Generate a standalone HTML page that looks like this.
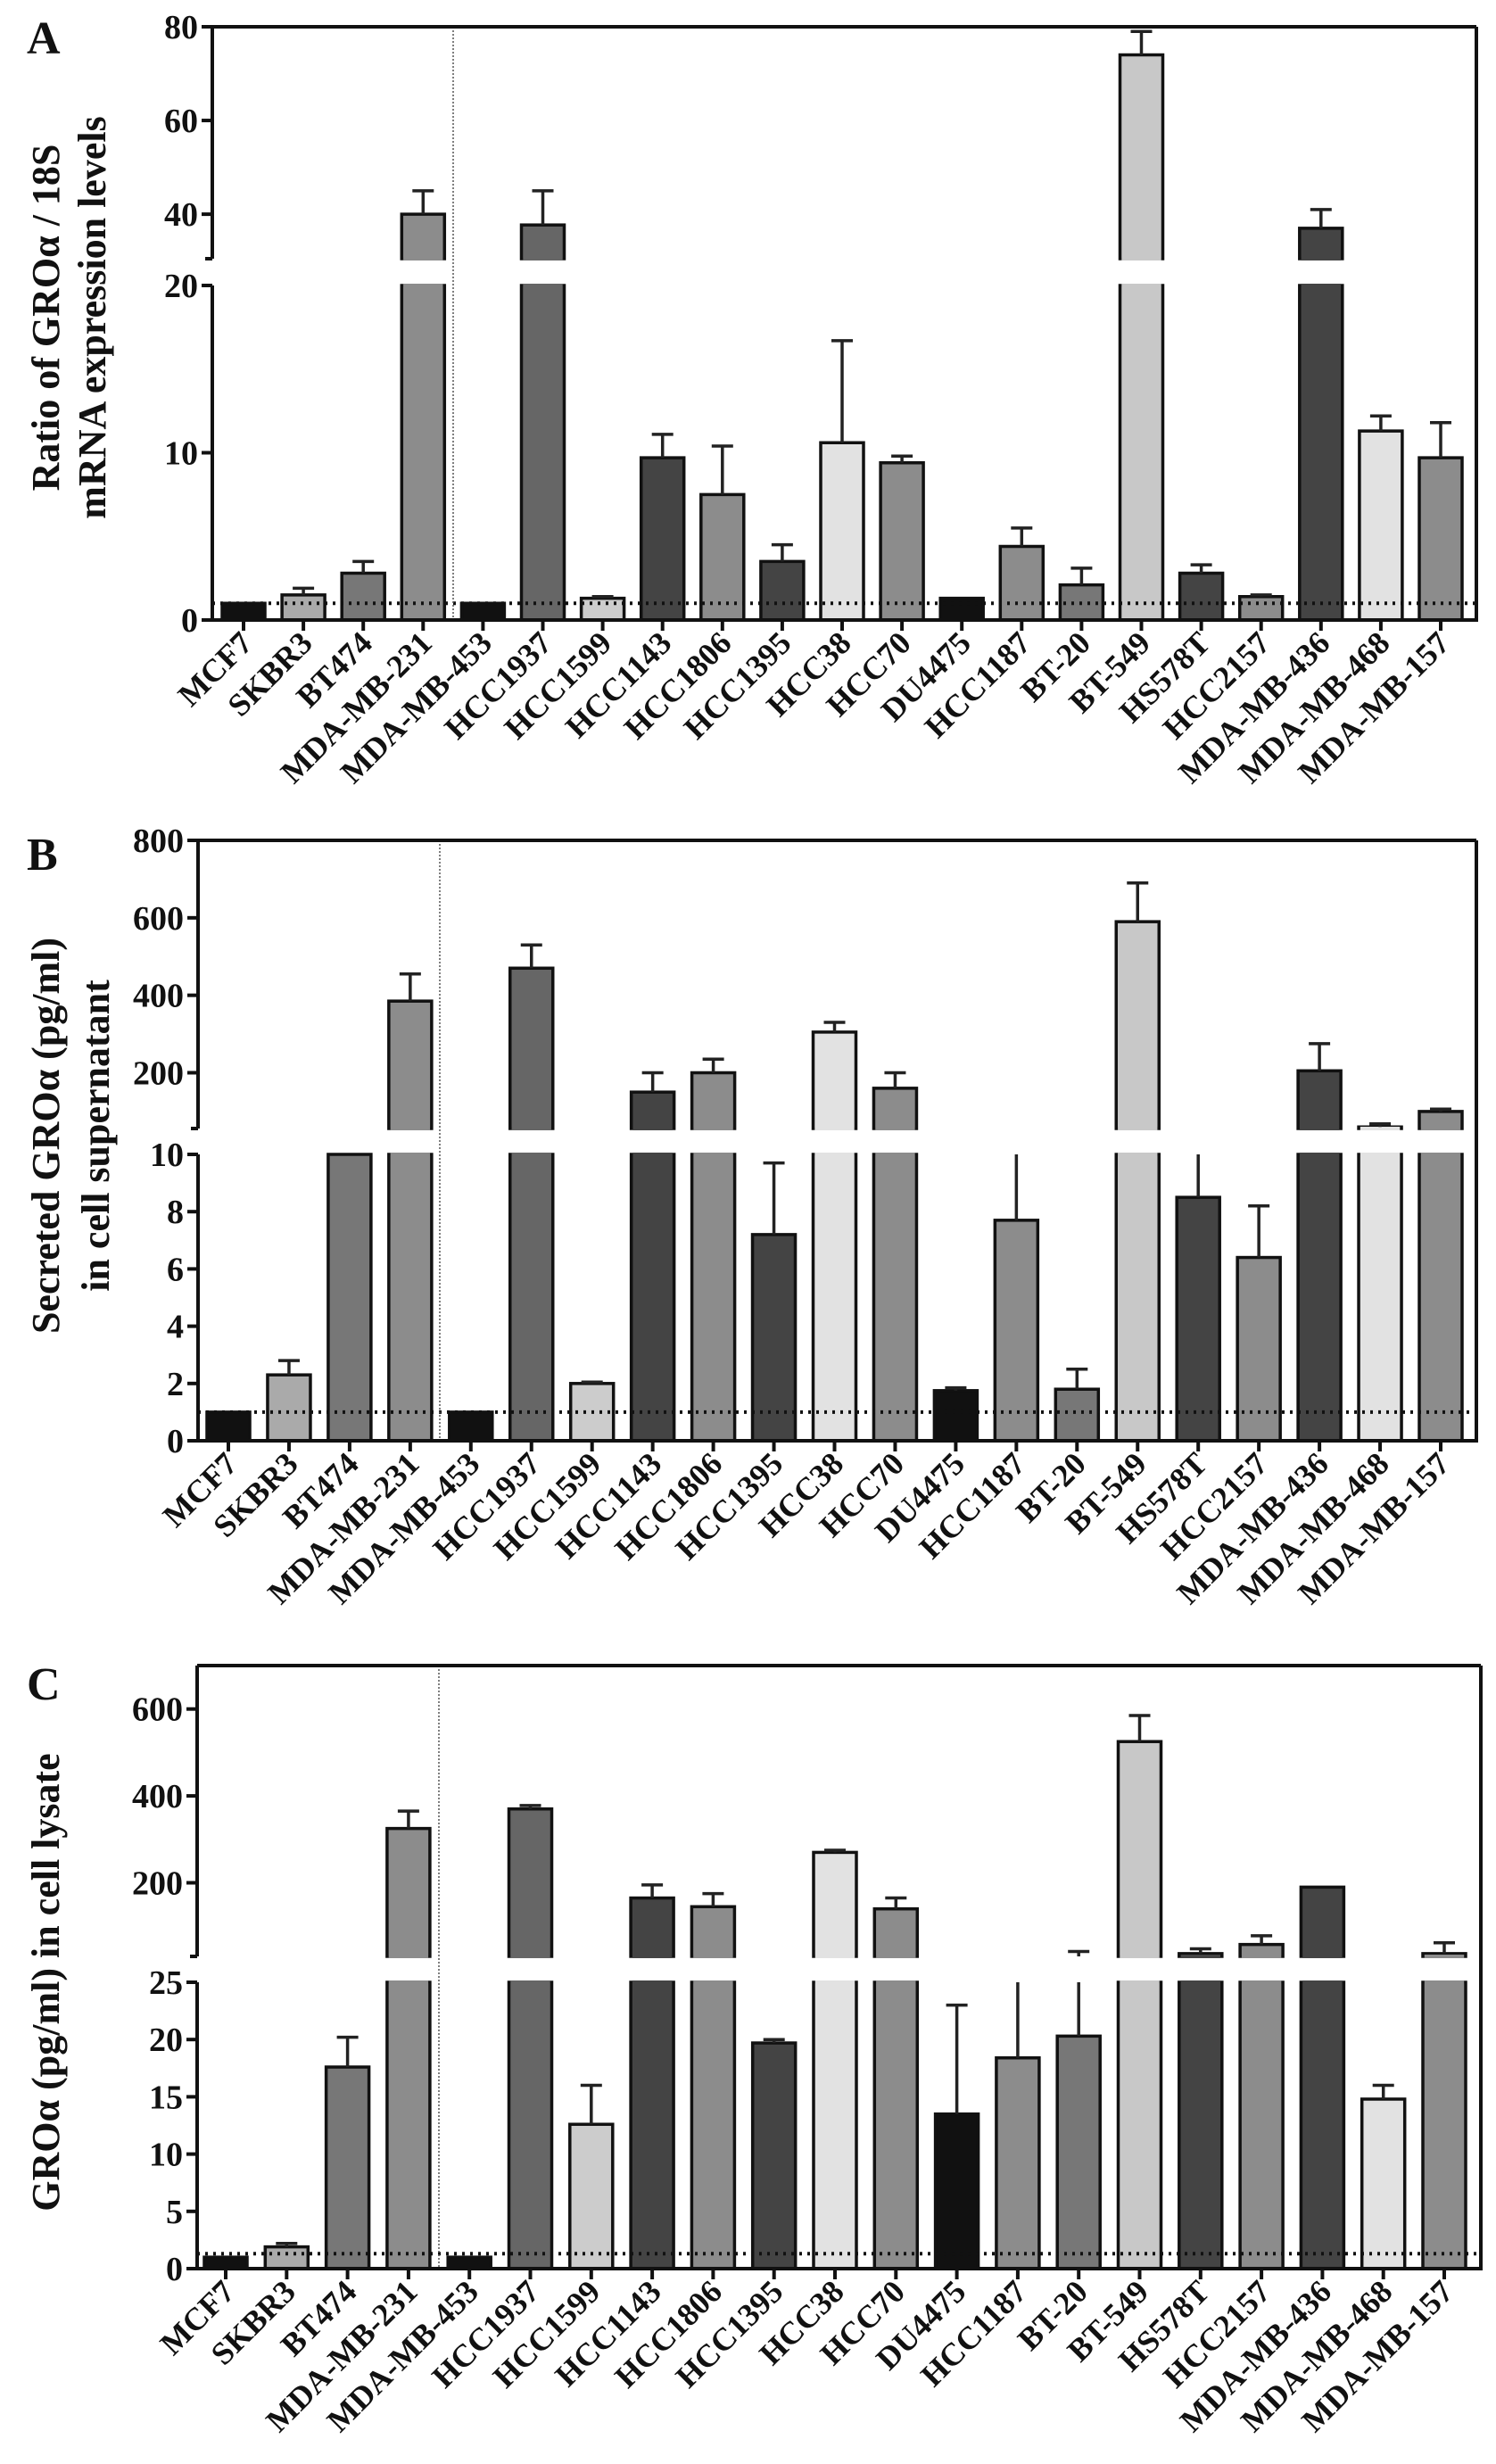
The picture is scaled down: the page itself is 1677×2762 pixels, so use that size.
<!DOCTYPE html>
<html><head><meta charset="utf-8"><style>
html,body{margin:0;padding:0;background:#fff}
svg{display:block}
text{font-family:"Liberation Serif",serif;font-weight:bold;fill:#111}
</style></head><body>
<svg id="fig" width="1677" height="2762" viewBox="0 0 1677 2762" xmlns="http://www.w3.org/2000/svg"></svg>
<script>
const categories=["MCF7","SKBR3","BT474","MDA-MB-231","MDA-MB-453","HCC1937","HCC1599","HCC1143","HCC1806","HCC1395","HCC38","HCC70","DU4475","HCC1187","BT-20","BT-549","HS578T","HCC2157","MDA-MB-436","MDA-MB-468","MDA-MB-157"];
const colorsA=["#111","#aaa","#777","#8c8c8c","#111","#666","#ccc","#444","#8c8c8c","#444","#e2e2e2","#8c8c8c","#111","#8c8c8c","#777","#c8c8c8","#444","#8c8c8c","#444","#e2e2e2","#8c8c8c"];
const meanA=[1,1.5,2.8,40,1,37.7,1.3,9.7,7.5,3.5,10.6,9.4,1.3,4.4,2.1,74,2.8,1.4,37,11.3,9.7];
const errA=[1,1.9,3.5,45,1,45,1.4,11.1,10.4,4.5,16.7,9.8,1.3,5.5,3.1,79,3.3,1.5,41,12.2,11.8];
const ticksALow=[0,10,20];
const ticksAUp=[40,60,80];
const meanB=[1,2.3,30,385,1,470,2.0,150,200,7.2,305,160,1.75,7.7,1.8,590,8.5,6.4,205,60,100];
const errB=[1,2.8,30,455,1,530,2.05,200,235,9.7,330,200,1.85,30,2.5,690,30,8.2,275,68,106];
const ticksBLow=[0,2,4,6,8,10];
const ticksBUp=[200,400,600,800];
const meanC=[1,1.9,17.6,325,1,370,12.6,165,145,19.7,270,140,13.5,18.4,20.3,525,37,58,190,14.8,37];
const errC=[1,2.2,20.2,365,1,378,16,195,175,20,275,165,23,27,42,585,48,78,190,16,62];
const ticksCLow=[0,5,10,15,20,25];
const ticksCUp=[200,400,600];

const NS="http://www.w3.org/2000/svg";
const svg=document.getElementById('fig');
function mk(tag,attrs,parent){const e=document.createElementNS(NS,tag);for(const k in attrs)e.setAttribute(k,attrs[k]);(parent||svg).appendChild(e);return e;}

function drawPanel(c,means,errs,lowTicks,upTicks){
  const g=mk('g',{});
  
  
  const yLow=v=>c.base-(v-c.lo0)/(c.lo1-c.lo0)*(c.base-c.loTop);
  const yUp=v=>c.upBot-(v-c.up0)/(c.up1-c.up0)*(c.upBot-c.top);
  const xAt=i=>c.x0+i*c.dx;
  const hw=c.bw/2;
  means.forEach((v,i)=>{
    const x=xAt(i);
    const lowV=Math.min(v,c.lo1);
    const r=mk('rect',{x:x-hw,y:yLow(lowV),width:c.bw,height:c.base-yLow(lowV),fill:colorsA[i],stroke:'#111','stroke-width':3.5},g);
    
    
    if(v>c.up0){
      const r2=mk('rect',{x:x-hw,y:yUp(v),width:c.bw,height:c.upBot-yUp(v),fill:colorsA[i],stroke:'#111','stroke-width':3.5},g);
      
      
      mk('rect',{x:x-hw+1.8,y:c.upBot-2,width:c.bw-3.6,height:4,fill:colorsA[i]},g);
      mk('rect',{x:x-hw+1.8,y:c.loTop-2,width:c.bw-3.6,height:4,fill:colorsA[i]},g);
    }
    const e=errs[i];
    if(e>v){
      const eg=mk('g',{stroke:'#222','stroke-width':3.5,fill:'none'},g);
      
      
      if(v<=c.lo1){
        if(e<=c.lo1){mk('line',{x1:x,y1:yLow(v),x2:x,y2:yLow(e)},eg);mk('line',{x1:x-12,y1:yLow(e),x2:x+12,y2:yLow(e)},eg);}
        else{mk('line',{x1:x,y1:yLow(v),x2:x,y2:c.loTop},eg);
          if(e>c.up0){mk('line',{x1:x,y1:c.upBot,x2:x,y2:yUp(e)},eg);mk('line',{x1:x-12,y1:yUp(e),x2:x+12,y2:yUp(e)},eg);}}
      } else if(v>=c.up0){
        mk('line',{x1:x,y1:yUp(v),x2:x,y2:yUp(e)},eg);mk('line',{x1:x-12,y1:yUp(e),x2:x+12,y2:yUp(e)},eg);
      }
    }
  });
  const rl=mk('line',{x1:c.left,y1:yLow(c.ref),x2:c.right,y2:yLow(c.ref),stroke:'#111','stroke-width':4,'stroke-dasharray':'3 6'},g);
  
  const vl=mk('line',{x1:c.vline,y1:c.top,x2:c.vline,y2:c.base,stroke:'#555','stroke-width':1.5,'stroke-dasharray':'2 2'},g);
  
  const ax=mk('g',{stroke:'#111','stroke-width':4,fill:'none'},g);
  
  mk('line',{x1:c.left,y1:c.top,x2:c.right,y2:c.top},ax);
  mk('line',{x1:c.right,y1:c.top,x2:c.right,y2:c.base},ax);
  mk('line',{x1:c.left-2,y1:c.base,x2:c.right+2,y2:c.base},ax);
  mk('line',{x1:c.left,y1:c.base,x2:c.left,y2:c.loTop},ax);
  mk('line',{x1:c.left,y1:c.upBot,x2:c.left,y2:c.top},ax);
  mk('line',{x1:c.left-8,y1:c.upBot,x2:c.left,y2:c.upBot},ax);
  const tg=mk('g',{},g);
  lowTicks.forEach(t=>{const y=yLow(t);mk('line',{x1:c.left-12,y1:y,x2:c.left,y2:y,stroke:'#111','stroke-width':4},tg);
    const tx=mk('text',{x:c.left-16,y:y+13,'text-anchor':'end','font-size':38},tg);tx.textContent=t;});
  upTicks.forEach(t=>{const y=yUp(t);mk('line',{x1:c.left-12,y1:y,x2:c.left,y2:y,stroke:'#111','stroke-width':4},tg);
    const tx=mk('text',{x:c.left-16,y:y+13,'text-anchor':'end','font-size':38},tg);tx.textContent=t;});
  const xg=mk('g',{},g);
  categories.forEach((n,i)=>{const x=xAt(i);
    mk('line',{x1:x,y1:c.base,x2:x,y2:c.base+12,stroke:'#111','stroke-width':4},xg);
    const ax2=x+12,ay=c.base+28;
    const tx=mk('text',{x:ax2,y:ay,'text-anchor':'end','font-size':36,transform:`rotate(-45 ${ax2} ${ay})`},xg);tx.textContent=n;});
  c.titles.forEach((t,k)=>{
    const tx=mk('text',{x:c.tx[k],y:c.ty,'text-anchor':'middle','font-size':44,transform:`rotate(-90 ${c.tx[k]} ${c.ty})`},g);
    
    tx.textContent=t;});
  const L=mk('text',{x:30,y:c.letterY,'font-size':52},g);
  
  L.textContent=c.letter;
}

drawPanel({name:'panel-a',letter:'A',letterY:60,left:238,right:1655,top:30,base:695,lo0:0,lo1:20,loTop:320,up0:30.5,up1:80,upBot:290,
  x0:273,dx:67.1,bw:48,vline:508,ref:1,titles:['Ratio of GROα / 18S','mRNA expression levels'],tx:[66,118],ty:356},meanA,errA,ticksALow,ticksAUp);
drawPanel({name:'panel-b',letter:'B',letterY:975,left:222,right:1655,top:942,base:1615,lo0:0,lo1:10,loTop:1294,up0:56,up1:800,upBot:1265,
  x0:256,dx:67.95,bw:48,vline:493,ref:1,titles:['Secreted GROα (pg/ml)','in cell supernatant'],tx:[66,122],ty:1273},meanB,errB,ticksBLow,ticksBUp);
drawPanel({name:'panel-c',letter:'C',letterY:1905,left:221,right:1660,top:1867,base:2543,lo0:0,lo1:25,loTop:2222,up0:30.6,up1:700,upBot:2193,
  x0:253,dx:68.3,bw:48,vline:492,ref:1.3,titles:['GROα (pg/ml) in cell lysate'],tx:[66],ty:2222},meanC,errC,ticksCLow,ticksCUp);
</script>
</body></html>
